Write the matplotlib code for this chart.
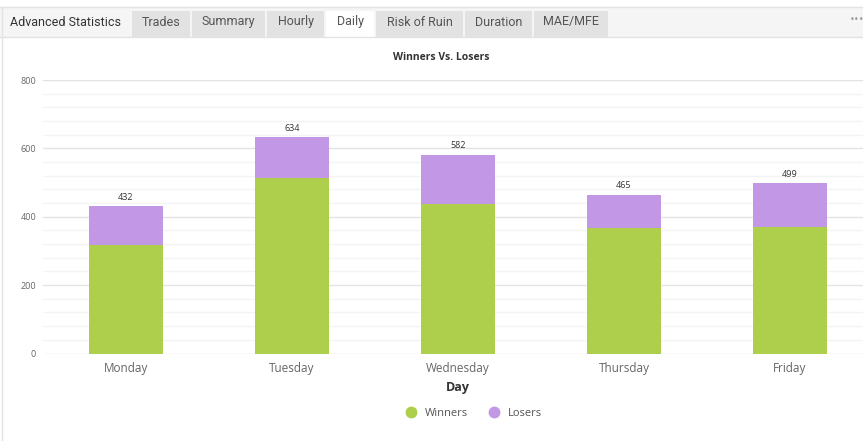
import matplotlib.pyplot as plt
from matplotlib.patches import Rectangle
from matplotlib.lines import Line2D

days = ["Monday", "Tuesday", "Wednesday", "Thursday", "Friday"]
winners = [317, 514, 438, 368, 370]
losers = [115, 120, 144, 97, 129]
totals = [432, 634, 582, 465, 499]

tabs = ["Trades", "Summary", "Hourly", "Daily", "Risk of Ruin", "Duration", "MAE/MFE"]
tab_edges = [(132, 190), (192, 265), (267, 324), (326, 374), (376, 463), (465, 532), (534, 608)]

GREEN = "#aecf4b"
PURPLE = "#c298e6"

W, H = 863, 441
fig = plt.figure(figsize=(W / 100, H / 100), dpi=100)
fig.patch.set_facecolor("white")


def fx(x):
    return x / W


def fy(y):
    return 1 - y / H


# card frame + tab strip
fig.add_artist(Rectangle((fx(0), fy(37)), 1, fy(7) - fy(37), transform=fig.transFigure,
                         facecolor="#f5f5f5", edgecolor="none"))
fig.add_artist(Line2D([0, 1], [fy(7), fy(7)], transform=fig.transFigure, color="#e3e3e3", lw=1))
fig.add_artist(Line2D([0, 1], [fy(37), fy(37)], transform=fig.transFigure, color="#e3e3e3", lw=1))
fig.add_artist(Line2D([fx(2), fx(2)], [0, fy(7)], transform=fig.transFigure, color="#e3e3e3", lw=1))
fig.text(fx(66), fy(22), "Advanced Statistics", family="Roboto", fontsize=9,
         color="#333333", ha="center", va="center")
for name, (a, b) in zip(tabs, tab_edges):
    active = name == "Daily"
    fig.add_artist(Rectangle((fx(a), fy(38 if active else 37)), fx(b - a), fy(11) - fy(38 if active else 37),
                             transform=fig.transFigure,
                             facecolor="white" if active else "#e2e2e2", edgecolor="none"))
    fig.text(fx((a + b) / 2), fy(22), name, family="Roboto", fontsize=9,
             color="#555555", ha="center", va="center")
fig.text(fx(857), fy(20), "•••", fontsize=6, color="#999999", ha="center", va="center")

fig.text(fx(441), fy(57), "Winners Vs. Losers", family="Open Sans", fontsize=7.5,
         fontweight="bold", color="#333333", ha="center", va="center")

# chart area
ax = fig.add_axes([fx(43), fy(353.5), fx(863 - 43), fy(80) - fy(353.5)])
x = list(range(len(days)))
ax.bar(x, winners, width=0.45, color=GREEN, label="Winners", zorder=3)
ax.bar(x, losers, width=0.45, bottom=winners, color=PURPLE, label="Losers", zorder=3)
for i, t in enumerate(totals):
    ax.text(i, t + 12, str(t), ha="center", va="bottom", fontsize=6.5,
            family="Open Sans", color="#333333")

ax.set_xlim(-0.5, 4.44)
ax.set_ylim(0, 800)
ax.set_yticks([0, 200, 400, 600, 800])
ax.set_yticks(range(0, 801, 40), minor=True)
ax.grid(axis="y", which="major", color="#e3e3e3", lw=1, zorder=0)
ax.grid(axis="y", which="minor", color="#f4f4f4", lw=1, zorder=0)
ax.tick_params(axis="both", which="both", length=0)
ax.tick_params(axis="y", labelsize=6.5, labelcolor="#666666", pad=5)
ax.tick_params(axis="x", labelsize=8.5, labelcolor="#666666", pad=6)
ax.set_xticks(x)
ax.set_xticklabels(days, family="Open Sans")
for lbl in ax.get_yticklabels():
    lbl.set_family("Open Sans")
for s in ax.spines.values():
    s.set_visible(False)

fig.text(fx(458), fy(387), "Day", family="Open Sans", fontsize=9, fontweight="bold",
         color="#333333", ha="center", va="center")

handles = [Line2D([], [], marker="o", ls="none", markersize=7.5, color=GREEN),
           Line2D([], [], marker="o", ls="none", markersize=7.5, color=PURPLE)]
fig.legend(handles, ["Winners", "Losers"], loc="center", bbox_to_anchor=(fx(471), fy(413)),
           ncol=2, frameon=False, handletextpad=0.3, columnspacing=1.3,
           prop={"family": "Open Sans", "size": 8}, labelcolor="#555555")

fig.savefig("out.png", dpi=100)
